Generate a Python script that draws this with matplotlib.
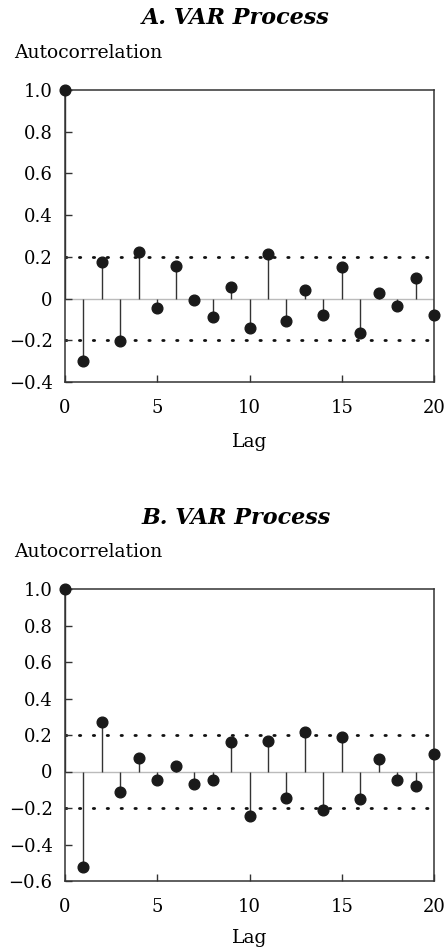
import matplotlib
matplotlib.use("Agg")
import matplotlib.pyplot as plt
import numpy as np

lags = list(range(0, 21))
acf_a = [1.0, -0.30, 0.174, -0.205, 0.223, -0.047, 0.154, -0.008, -0.089, 0.055, -0.143,
         0.213, -0.107, 0.041, -0.078, 0.153, -0.163, 0.028, -0.034, 0.098, -0.080]
acf_b = [1.0, -0.523, 0.272, -0.110, 0.073, -0.044, 0.031, -0.066, -0.044, 0.160, -0.244,
         0.169, -0.147, 0.218, -0.211, 0.189, -0.150, 0.068, -0.046, -0.081, 0.094]
bound = 0.2
titles = ["A. VAR Process", "B. VAR Process"]
ylims = [(-0.4, 1.0), (-0.6, 1.0)]
yticks_list = [[-0.4, -0.2, 0, 0.2, 0.4, 0.6, 0.8, 1.0],
               [-0.6, -0.4, -0.2, 0, 0.2, 0.4, 0.6, 0.8, 1.0]]
xticks = [0, 5, 10, 15, 20]

plt.rcParams['font.family'] = ['DejaVu Serif']

fig = plt.figure(figsize=(4.44, 9.51), dpi=100)
W, H = 444, 951
axes_px = [(65, 90, 434, 382), (65, 589, 434, 881)]
title_y = [18, 518]
ylab_y = [53, 552]
xlab_y = [442, 938]

def fmt(v):
    if abs(v) < 1e-9:
        return "0"
    s = f"{v:.1f}"
    return s.replace("-", "\u2212")

for i, (vals, title) in enumerate(zip([acf_a, acf_b], titles)):
    l, t, r, b = axes_px[i]
    ax = fig.add_axes([l / W, 1 - b / H, (r - l) / W, (b - t) / H])
    ax.set_xlim(0, 20)
    ax.set_ylim(*ylims[i])
    ax.axhline(0, color="#bbbbbb", lw=1.0, zorder=1)
    ax.axhline(bound, color="#111111", lw=2.0, ls=(0, (0.5, 4.5)), dash_capstyle="round", zorder=1)
    ax.axhline(-bound, color="#111111", lw=2.0, ls=(0, (0.5, 4.5)), dash_capstyle="round", zorder=1)
    ax.vlines(lags, 0, vals, color="#333333", lw=1.0, zorder=2)
    ax.plot(lags, vals, "o", color="#1a1a1a", ms=7.7, clip_on=False, zorder=5)
    ax.set_xticks(xticks)
    ax.set_xticklabels([str(x) for x in xticks])
    yt = yticks_list[i]
    ax.set_yticks(yt)
    ax.set_yticklabels([fmt(v) for v in yt])
    ax.tick_params(direction="in", length=5, width=1, color="#333333", labelsize=13,
                   top=False, right=False)
    ax.tick_params(axis="x", pad=12)
    ax.tick_params(axis="y", pad=9)
    for s in ax.spines.values():
        s.set_color("#333333")
        s.set_linewidth(1.1)
    fig.text(236 / W, 1 - title_y[i] / H, title, ha="center", va="center",
             fontsize=16, fontweight="bold", fontstyle="italic")
    fig.text(14 / W, 1 - ylab_y[i] / H, "Autocorrelation", ha="left", va="center", fontsize=13.5)
    fig.text(250 / W, 1 - xlab_y[i] / H, "Lag", ha="center", va="center", fontsize=13.5)

fig.savefig("out.png", dpi=100)
